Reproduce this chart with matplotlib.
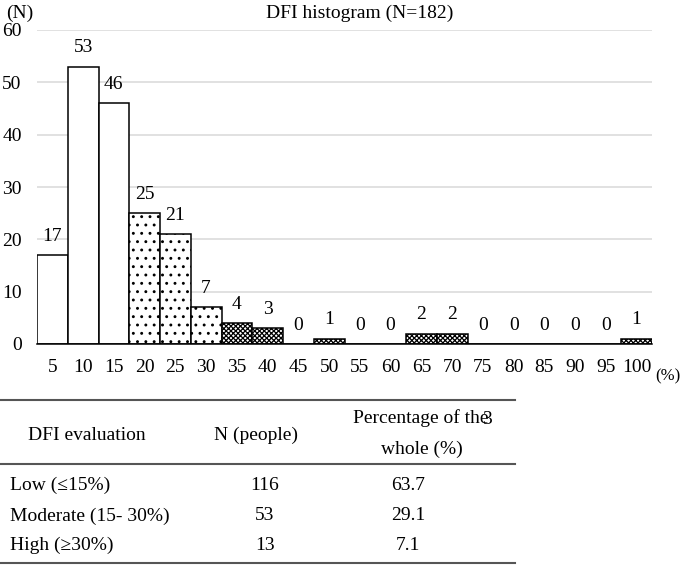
import matplotlib
matplotlib.use("Agg")

import matplotlib.pyplot as plt
from matplotlib.lines import Line2D

plt.rcParams["font.family"] = ["Liberation Serif", "DejaVu Serif"]
plt.rcParams["hatch.linewidth"] = 0.9

# histogram data
bins = ["5", "10", "15", "20", "25", "30", "35", "40", "45", "50",
        "55", "60", "65", "70", "75", "80", "85", "90", "95", "100"]
counts = [17, 53, 46, 25, 21, 7, 4, 3, 0, 1, 0, 0, 2, 2, 0, 0, 0, 0, 0, 1]
# low (<=15), moderate (15-30), high (>30)
groups = ["low"] * 3 + ["mod"] * 3 + ["high"] * 14
hatches = {"low": "", "mod": "..", "high": "xxxxxxx"}

# summary table
tbl_labels = ["Low (≤15%)", "Moderate (15- 30%)", "High (≥30%)"]
tbl_n = ["116", "53", "13"]
tbl_pct = ["63.7", "29.1", "7.1"]

W, H = 685, 565
fig = plt.figure(figsize=(W / 100, H / 100), dpi=100)
ax = fig.add_axes([37 / W, 1 - 344 / H, (652 - 37) / W, (344 - 30) / H])

x = list(range(len(bins)))
for xi, c, g in zip(x, counts, groups):
    ax.bar(xi, c, width=1.0, color="white", edgecolor="black", lw=1.1,
           hatch=hatches[g], zorder=3)
    ax.text(xi, c + 2.0, str(c), ha="center", va="bottom", fontsize=14)

ax.set_xlim(-0.5, len(bins) - 0.5)
ax.set_ylim(0, 60)
ax.set_yticks(range(0, 61, 10))
ax.set_xticks(x)
ax.set_xticklabels(bins)
ax.tick_params(axis="both", length=0, labelsize=14)
ax.tick_params(axis="x", pad=11)
ax.tick_params(axis="y", pad=11)
ax.grid(axis="y", color="#d9d9d9", lw=1.1, zorder=0)
for s in ["top", "right", "left"]:
    ax.spines[s].set_visible(False)
ax.spines["bottom"].set_color("black")
ax.spines["bottom"].set_linewidth(1.1)
ax.spines["bottom"].set_zorder(4)

fig.text(360 / W, 1 - 13 / H, "DFI histogram (N=182)", ha="center", va="center", fontsize=14)
fig.text(20 / W, 1 - 13 / H, "(N)", ha="center", va="center", fontsize=14)
fig.text(668 / W, 1 - 376 / H, "(%)", ha="center", va="center", fontsize=12)

# table
def fy(py):
    return 1 - py / H

for py in [400, 464, 563]:
    fig.add_artist(Line2D([0, 515 / W], [fy(py), fy(py)], color="#555555", lw=1.5))

fig.text(87 / W, fy(435), "DFI evaluation", ha="center", va="center", fontsize=14)
fig.text(256 / W, fy(435), "N (people)", ha="center", va="center", fontsize=14)
fig.text(353 / W, fy(418), "Percentage of the", ha="left", va="center", fontsize=14)
fig.text(482 / W, fy(420), "3", ha="left", va="center", fontsize=14)
fig.text(422 / W, fy(449), "whole (%)", ha="center", va="center", fontsize=14)

row_y = [485, 516, 545]
for py, lab, n, p in zip(row_y, tbl_labels, tbl_n, tbl_pct):
    fig.text(10 / W, fy(py), lab, ha="left", va="center", fontsize=14)
    fig.text(265 / W, fy(py), n, ha="center", va="center", fontsize=14)
    fig.text(408 / W, fy(py), p, ha="center", va="center", fontsize=14)

fig.savefig("out.png", dpi=100)
